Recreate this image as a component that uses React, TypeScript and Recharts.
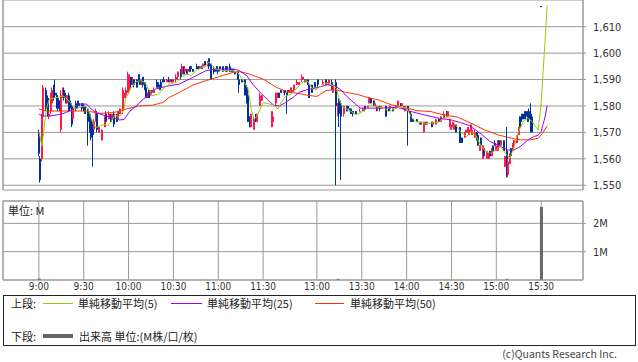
import { ComposedChart, Bar, Line, XAxis, YAxis, CartesianGrid, ReferenceLine } from 'recharts'

const UP = '#ff1a4b'
const DOWN = '#003399'
const GRID = '#999999'
const AXIS_FONT = '"Liberation Sans Narrow", "DejaVu Sans Condensed", "Liberation Sans", sans-serif'
const JP_FONT = '"Noto Sans CJK JP", "Noto Sans", sans-serif'

// x = minute slot counted from 9:00 (11:30 = 150, afternoon opens 12:30 = 156)
const timeSlots = [0, 30, 60, 90, 120, 150, 186, 216, 246, 276, 306, 336]
const timeLabels = ['9:00', '9:30', '10:00', '10:30', '11:00', '11:30', '13:00', '13:30', '14:00', '14:30', '15:00', '15:30']
const priceTicks = [1550, 1560, 1570, 1580, 1590, 1600, 1610]
const volumeTicks = [1, 2]

// [slot, open, high, low, close]
const candles = [
  [0, 1570, 1571, 1561, 1562], [1, 1560, 1561, 1551, 1552], [2, 1560, 1577, 1559, 1576],
  [3, 1576, 1588, 1575, 1587], [5, 1586, 1587, 1578, 1579], [6, 1583, 1584, 1576, 1577],
  [7, 1576, 1578, 1575, 1577], [8, 1578, 1585, 1577, 1584], [9, 1581, 1587, 1580, 1586],
  [10, 1587, 1588, 1582, 1583], [11, 1585, 1590, 1583, 1584], [12, 1584, 1585, 1579, 1580],
  [13, 1583, 1584, 1578, 1579], [14, 1582, 1582, 1578, 1579], [15, 1571, 1586, 1570, 1584],
  [16, 1584, 1587, 1583, 1586], [17, 1586, 1587, 1582, 1583], [18, 1584, 1585, 1581, 1581],
  [19, 1581, 1584, 1581, 1584], [20, 1584, 1585, 1578, 1579], [21, 1582, 1583, 1578, 1579],
  [22, 1580, 1581, 1572, 1573], [23, 1575, 1579, 1575, 1579], [25, 1581, 1582, 1578, 1579],
  [26, 1581, 1582, 1579, 1580], [27, 1581, 1582, 1580, 1580], [29, 1581, 1581, 1578, 1579],
  [30, 1580, 1581, 1578, 1578], [31, 1580, 1580, 1577, 1577], [33, 1579, 1579, 1565, 1574],
  [34, 1577, 1578, 1570, 1571], [35, 1575, 1575, 1567, 1568], [36, 1572, 1574, 1557, 1569],
  [37, 1571, 1575, 1571, 1574], [38, 1575, 1579, 1574, 1578], [39, 1577, 1578, 1570, 1571],
  [40, 1570, 1572, 1570, 1572], [42, 1567, 1571, 1567, 1571], [44, 1572, 1576, 1572, 1576],
  [45, 1577, 1578, 1574, 1574], [47, 1575, 1578, 1575, 1577], [48, 1577, 1577, 1574, 1574],
  [49, 1575, 1577, 1575, 1577], [50, 1577, 1578, 1572, 1573], [52, 1576, 1577, 1574, 1574],
  [53, 1575, 1578, 1575, 1578], [54, 1577, 1579, 1577, 1579], [56, 1578, 1587, 1577, 1586],
  [57, 1583, 1585, 1582, 1585], [58, 1584, 1587, 1583, 1586], [60, 1585, 1593, 1585, 1592],
  [61, 1587, 1592, 1586, 1591], [62, 1591, 1591, 1587, 1588], [63, 1588, 1591, 1588, 1590],
  [64, 1590, 1590, 1587, 1588], [66, 1590, 1590, 1587, 1587], [67, 1592, 1592, 1589, 1590],
  [68, 1590, 1590, 1588, 1588], [69, 1588, 1590, 1588, 1590], [70, 1591, 1591, 1587, 1588],
  [71, 1589, 1589, 1586, 1586], [72, 1587, 1587, 1583, 1583], [73, 1584, 1585, 1583, 1585],
  [74, 1586, 1586, 1583, 1583], [75, 1584, 1586, 1584, 1586], [76, 1585, 1586, 1585, 1586],
  [77, 1585, 1587, 1585, 1586], [79, 1589, 1590, 1587, 1587], [80, 1589, 1589, 1587, 1587],
  [81, 1588, 1588, 1586, 1586], [82, 1589, 1590, 1587, 1587], [83, 1590, 1590, 1589, 1589],
  [84, 1590, 1591, 1589, 1589], [86, 1589, 1590, 1589, 1590], [87, 1590, 1591, 1589, 1589],
  [88, 1589, 1590, 1589, 1590], [89, 1590, 1590, 1589, 1589], [90, 1589, 1590, 1589, 1590],
  [92, 1590, 1592, 1589, 1591], [93, 1591, 1593, 1590, 1593], [95, 1593, 1594, 1590, 1591],
  [96, 1592, 1596, 1592, 1595], [97, 1595, 1595, 1592, 1592], [98, 1593, 1595, 1593, 1594],
  [99, 1594, 1594, 1592, 1592], [100, 1593, 1594, 1593, 1594], [101, 1595, 1595, 1593, 1593],
  [102, 1595, 1595, 1593, 1594], [103, 1594, 1594, 1593, 1593], [106, 1595, 1596, 1594, 1594],
  [107, 1595, 1595, 1594, 1594], [108, 1594, 1595, 1594, 1595], [109, 1595, 1595, 1594, 1594],
  [110, 1595, 1596, 1595, 1596], [111, 1597, 1597, 1595, 1595], [113, 1595, 1597, 1595, 1596],
  [114, 1598, 1598, 1594, 1595], [115, 1596, 1596, 1590, 1590], [117, 1594, 1595, 1592, 1593],
  [118, 1594, 1594, 1593, 1593], [119, 1595, 1595, 1593, 1594], [120, 1594, 1594, 1592, 1593],
  [121, 1595, 1595, 1593, 1594], [123, 1595, 1595, 1593, 1593], [125, 1595, 1595, 1593, 1594],
  [126, 1595, 1595, 1593, 1593], [128, 1595, 1596, 1593, 1593], [129, 1594, 1594, 1593, 1593],
  [130, 1594, 1594, 1593, 1593], [131, 1593, 1593, 1592, 1592], [133, 1593, 1593, 1590, 1590],
  [134, 1590, 1590, 1585, 1588], [136, 1590, 1590, 1589, 1589], [138, 1590, 1590, 1584, 1584],
  [139, 1587, 1588, 1581, 1581], [140, 1584, 1584, 1574, 1574], [141, 1576, 1576, 1572, 1572],
  [142, 1572, 1577, 1572, 1577], [144, 1571, 1576, 1571, 1575], [145, 1577, 1577, 1574, 1574],
  [146, 1574, 1577, 1574, 1577], [148, 1580, 1585, 1580, 1584], [149, 1582, 1584, 1582, 1584],
  [156, 1572, 1578, 1572, 1578], [157, 1574, 1577, 1573, 1576], [159, 1581, 1585, 1580, 1585],
  [160, 1583, 1585, 1583, 1585], [161, 1585, 1585, 1583, 1583], [162, 1586, 1586, 1585, 1585],
  [164, 1585, 1586, 1585, 1586], [165, 1586, 1586, 1584, 1585], [166, 1585, 1585, 1577, 1584],
  [167, 1586, 1586, 1585, 1585], [168, 1585, 1586, 1585, 1586], [169, 1585, 1587, 1585, 1587],
  [170, 1585, 1586, 1585, 1586], [171, 1586, 1588, 1586, 1588], [173, 1588, 1590, 1588, 1589],
  [174, 1588, 1589, 1588, 1589], [176, 1590, 1592, 1589, 1591], [177, 1590, 1591, 1590, 1591],
  [178, 1590, 1590, 1589, 1589], [179, 1589, 1590, 1589, 1590], [180, 1590, 1590, 1588, 1588],
  [181, 1588, 1588, 1583, 1583], [183, 1588, 1588, 1585, 1585], [185, 1589, 1589, 1587, 1587],
  [187, 1590, 1590, 1587, 1588], [190, 1588, 1590, 1588, 1589], [192, 1590, 1590, 1588, 1589],
  [193, 1588, 1589, 1588, 1589], [194, 1588, 1590, 1588, 1590], [196, 1589, 1590, 1586, 1586],
  [197, 1585, 1588, 1585, 1588], [199, 1589, 1590, 1550, 1580], [200, 1577, 1581, 1576, 1581],
  [201, 1582, 1583, 1572, 1577], [202, 1581, 1582, 1552, 1576], [204, 1577, 1580, 1576, 1580],
  [206, 1580, 1580, 1578, 1578], [207, 1580, 1580, 1579, 1579], [208, 1579, 1579, 1578, 1578],
  [209, 1579, 1579, 1577, 1577], [210, 1578, 1578, 1576, 1577], [212, 1578, 1578, 1577, 1577],
  [215, 1578, 1579, 1578, 1578], [217, 1578, 1579, 1578, 1579], [218, 1580, 1580, 1578, 1579],
  [220, 1579, 1580, 1579, 1580], [221, 1581, 1583, 1581, 1583], [222, 1583, 1583, 1581, 1581],
  [224, 1582, 1582, 1580, 1580], [225, 1580, 1581, 1580, 1581], [226, 1580, 1580, 1578, 1579],
  [227, 1579, 1580, 1578, 1580], [228, 1580, 1580, 1578, 1579], [229, 1579, 1580, 1579, 1580],
  [232, 1580, 1580, 1576, 1576], [234, 1579, 1579, 1578, 1578], [235, 1579, 1580, 1579, 1580],
  [237, 1579, 1579, 1578, 1578], [239, 1579, 1580, 1579, 1580], [240, 1580, 1582, 1580, 1582],
  [242, 1581, 1581, 1580, 1580], [243, 1580, 1581, 1580, 1581], [244, 1580, 1580, 1579, 1579],
  [245, 1578, 1580, 1578, 1580], [247, 1580, 1580, 1565, 1578], [248, 1578, 1578, 1577, 1577],
  [249, 1577, 1577, 1574, 1574], [250, 1575, 1575, 1574, 1574], [253, 1575, 1575, 1574, 1574],
  [255, 1573, 1574, 1573, 1574], [256, 1574, 1574, 1573, 1573], [258, 1570, 1574, 1570, 1574],
  [259, 1574, 1574, 1573, 1573], [260, 1573, 1574, 1573, 1574], [263, 1574, 1574, 1572, 1572],
  [264, 1573, 1574, 1573, 1574], [266, 1573, 1575, 1573, 1575], [268, 1575, 1575, 1574, 1574],
  [269, 1574, 1576, 1574, 1576], [271, 1575, 1578, 1575, 1577], [273, 1578, 1578, 1576, 1576],
  [274, 1576, 1578, 1576, 1578], [275, 1572, 1575, 1572, 1575], [276, 1571, 1574, 1571, 1573],
  [277, 1572, 1574, 1572, 1574], [278, 1571, 1573, 1571, 1573], [279, 1573, 1573, 1570, 1570],
  [282, 1572, 1572, 1566, 1566], [283, 1568, 1568, 1566, 1566], [285, 1568, 1570, 1568, 1570],
  [286, 1570, 1571, 1570, 1571], [287, 1570, 1572, 1570, 1572], [288, 1569, 1571, 1569, 1571],
  [289, 1570, 1573, 1570, 1573], [290, 1569, 1571, 1569, 1571], [292, 1568, 1571, 1568, 1570],
  [293, 1570, 1570, 1567, 1567], [294, 1569, 1569, 1565, 1565], [295, 1563, 1565, 1563, 1565],
  [296, 1568, 1568, 1565, 1565], [297, 1560, 1565, 1560, 1565], [298, 1564, 1564, 1561, 1561],
  [300, 1560, 1563, 1560, 1563], [301, 1560, 1562, 1560, 1562], [302, 1563, 1563, 1561, 1561],
  [303, 1561, 1564, 1561, 1564], [304, 1565, 1565, 1563, 1563], [305, 1566, 1567, 1565, 1565],
  [306, 1563, 1565, 1563, 1565], [307, 1563, 1567, 1563, 1567], [308, 1567, 1567, 1565, 1565],
  [309, 1565, 1567, 1565, 1567], [311, 1567, 1567, 1563, 1563], [312, 1557, 1561, 1557, 1561],
  [313, 1563, 1572, 1553, 1556], [314, 1554, 1560, 1553, 1559], [315, 1558, 1562, 1558, 1561],
  [316, 1564, 1564, 1561, 1561], [317, 1563, 1566, 1563, 1566], [318, 1565, 1567, 1565, 1567],
  [320, 1566, 1569, 1566, 1569], [321, 1569, 1572, 1569, 1572], [322, 1576, 1576, 1572, 1572],
  [323, 1577, 1577, 1574, 1575], [324, 1577, 1577, 1575, 1575], [325, 1577, 1578, 1575, 1575],
  [326, 1578, 1578, 1576, 1576], [327, 1578, 1578, 1574, 1574], [328, 1578, 1579, 1575, 1575],
  [329, 1577, 1581, 1570, 1573], [330, 1576, 1576, 1570, 1570], [336, 1617.8, 1617.8, 1617.5, 1617.5],
]

// moving averages: [slot, value]
const ma5Points = [
  [0, 1570.5], [2, 1564.8], [5, 1578.8], [7, 1582.6], [12, 1583.2], [16, 1583.8], [18, 1583.2],
  [21, 1581.3], [24, 1578.8], [27, 1579.4], [31, 1580.0], [33, 1578.8], [36, 1573.7], [38, 1571.8],
  [41, 1572.4], [44, 1573.0], [46, 1572.4], [48, 1573.7], [51, 1576.8], [53, 1575.6], [55, 1576.8],
  [57, 1578.8], [58, 1582.6], [62, 1587.0], [65, 1589.2], [68, 1589.6], [71, 1588.9], [74, 1585.8],
  [76, 1583.8], [80, 1584.5], [83, 1586.4], [87, 1588.3], [92, 1588.9], [95, 1590.8], [99, 1592.1],
  [102, 1591.5], [105, 1593.4], [110, 1594.7], [114, 1596.6], [118, 1594.0], [123, 1593.4],
  [130, 1593.4], [133, 1592.7], [136, 1590.2], [140, 1586.4], [142, 1578.8], [144, 1575.0],
  [146, 1576.2], [150, 1581.3], [156, 1580.5], [158, 1580.0], [160, 1578.8], [162, 1581.3],
  [165, 1583.8], [169, 1584.5], [172, 1586.4], [175, 1588.3], [178, 1589.6], [180, 1589.2],
  [183, 1586.4], [186, 1586.3], [191, 1588.6], [195, 1588.4], [199, 1586.7], [201, 1582.3],
  [203, 1579.8], [205, 1579.2], [209, 1577.9], [212, 1576.6], [215, 1577.3], [220, 1579.2],
  [222, 1580.4], [225, 1579.8], [231, 1579.2], [234, 1577.9], [239, 1579.2], [242, 1579.8],
  [246, 1579.2], [249, 1576.0], [252, 1574.1], [258, 1573.5], [262, 1573.5], [267, 1573.7],
  [271, 1575.4], [274, 1576.0], [278, 1573.5], [282, 1570.3], [286, 1568.4], [289, 1570.3],
  [292, 1569.1], [296, 1564.6], [299, 1562.8], [302, 1562.1], [306, 1563.4], [309, 1564.6],
  [312, 1562.1], [315, 1560.2], [318, 1564.6], [320, 1569.1], [324, 1574.1], [327, 1575.4],
  [330, 1574.1], [334, 1570.8], [336, 1581], [337, 1590], [338, 1599], [339, 1608], [340, 1618],
]
const ma25Points = [
  [0, 1576.8], [3, 1576.2], [7, 1576.2], [14, 1576.8], [18, 1577.5], [23, 1578.8], [27, 1580.7],
  [32, 1580.7], [34, 1579.4], [38, 1577.5], [45, 1576.2], [50, 1575.6], [54, 1574.7], [57, 1574.9],
  [61, 1578.1], [65, 1580.0], [70, 1582.6], [74, 1584.5], [78, 1586.4], [85, 1587.4], [94, 1588.3],
  [103, 1590.8], [112, 1593.4], [119, 1594.0], [130, 1594.0], [134, 1593.4], [139, 1591.5],
  [143, 1588.3], [148, 1585.1], [157, 1580.3], [161, 1580.0], [165, 1581.3], [170, 1583.2],
  [174, 1585.1], [179, 1586.1], [186, 1586.9], [193, 1588.0], [198, 1587.6], [202, 1586.1],
  [206, 1583.6], [211, 1581.1], [215, 1579.2], [222, 1579.2], [231, 1579.2], [240, 1579.5],
  [249, 1577.9], [258, 1576.6], [267, 1575.4], [276, 1574.7], [282, 1573.7], [288, 1572.6],
  [296, 1569.3], [302, 1566.5], [309, 1564.6], [314, 1563.3], [318, 1563.4], [322, 1564.6],
  [327, 1567.0], [331, 1568.4], [334, 1568.9], [336, 1570.3], [337, 1572.5], [338, 1574.5],
  [339, 1577.0], [340, 1580.1],
]
const ma50Points = [
  [0, 1578.8], [5, 1578.1], [18, 1578.1], [32, 1578.1], [41, 1577.2], [50, 1577.5], [58, 1578.8],
  [67, 1580.0], [76, 1580.3], [83, 1581.3], [87, 1583.2], [94, 1585.1], [103, 1587.9], [112, 1589.6],
  [121, 1591.2], [130, 1592.7], [134, 1593.0], [139, 1592.4], [145, 1591.2], [150, 1590.2],
  [159, 1587.0], [165, 1585.7], [170, 1585.1], [174, 1584.7], [179, 1584.1], [186, 1583.6],
  [192, 1585.8], [198, 1586.3], [205, 1585.2], [213, 1584.4], [218, 1583.5], [227, 1582.3],
  [236, 1580.4], [244, 1579.5], [253, 1578.2], [262, 1577.9], [271, 1576.6], [280, 1575.8],
  [289, 1573.5], [298, 1571.0], [307, 1569.1], [316, 1567.8], [322, 1567.2], [329, 1567.2],
  [334, 1567.8], [337, 1569.7], [340, 1572.5],
]

// volume in millions: [slot, volume]
const volumes = [[0, 0.05], [200, 0.04], [313, 0.04], [336, 2.58]]

const X_DOMAIN: [number, number] = [-24, 364]

const candleData = candles.map(([slot, open, high, low, close]) => ({
  slot, open, high, low, close, range: [low, high],
}))
const toLine = (pts: number[][]) => pts.map(([slot, v]) => ({ slot, v }))
const ma5Data = toLine(ma5Points)
const ma25Data = toLine(ma25Points)
const ma50Data = toLine(ma50Points)
const volumeData = volumes.map(([slot, vol]) => ({ slot, vol }))

const timeLabel = (slot: number) => timeLabels[timeSlots.indexOf(slot)] ?? ''

function Candle(props: any) {
  const { x, y, width, height, payload } = props
  if (x == null || y == null || !payload) return null
  const { open, high, low, close } = payload
  const color = close >= open ? UP : DOWN
  const cx = Math.round(x + width / 2)
  const k = high > low ? height / (high - low) : 0
  const yOpen = y + (high - open) * k
  const yClose = y + (high - close) * k
  const top = Math.min(yOpen, yClose)
  const bodyH = Math.max(1, Math.abs(yClose - yOpen))
  return (
    <g>
      <line x1={cx - 0.5} x2={cx - 0.5} y1={y} y2={y + Math.max(height, 1)} stroke={color} strokeWidth={1} />
      <rect x={cx - 1} y={top} width={2} height={bodyH} fill={color} />
    </g>
  )
}

const axisTick = { fill: '#333', fontSize: 11, fontFamily: AXIS_FONT }

function LegendLine({ left, top, color, h = 1, w = 30 }: any) {
  return <div style={{ position: 'absolute', left, top: top - h / 2, width: w, height: h, background: color }} />
}

function Label({ left, top, children, size = 11 }: any) {
  return (
    <div style={{ position: 'absolute', left, top: top - 7, lineHeight: '14px', fontSize: size, fontFamily: JP_FONT, color: '#222', whiteSpace: 'nowrap' }}>
      {children}
    </div>
  )
}

export default function App() {
  return (
    <div style={{ position: 'fixed', left: 0, top: 0, width: 638, height: 362, background: '#fff', overflow: 'hidden' }}>
      <div style={{ position: 'absolute', left: 0, top: 0 }}>
        <ComposedChart width={638} height={192} data={candleData} margin={{ top: 0, right: 0, bottom: 2, left: 3 }}>
          <CartesianGrid stroke={GRID} />
          <XAxis
            type="number"
            dataKey="slot"
            domain={X_DOMAIN}
            ticks={timeSlots}
            allowDataOverflow
            height={0}
            tick={false}
            tickLine={false}
            axisLine={{ stroke: GRID }}
          />
          <YAxis
            orientation="right"
            domain={[1548.2, 1620.1]}
            ticks={priceTicks}
            allowDataOverflow
            interval={0}
            width={55}
            tickSize={3}
            tickMargin={7}
            tickLine={{ stroke: GRID }}
            axisLine={{ stroke: GRID }}
            tick={axisTick}
            tickFormatter={v => Number(v).toLocaleString('en-US')}
          />
          <ReferenceLine x={X_DOMAIN[0]} stroke={GRID} />
          <Bar dataKey="range" shape={Candle} barSize={2} isAnimationActive={false} />
          <Line data={ma50Data} dataKey="v" type="linear" stroke="#ff3300" strokeWidth={1} dot={false} activeDot={false} isAnimationActive={false} />
          <Line data={ma25Data} dataKey="v" type="linear" stroke="#9900ff" strokeWidth={1} dot={false} activeDot={false} isAnimationActive={false} />
          <Line data={ma5Data} dataKey="v" type="linear" stroke="#99cc00" strokeWidth={1} dot={false} activeDot={false} isAnimationActive={false} />
        </ComposedChart>
      </div>

      <div style={{ position: 'absolute', left: 0, top: 195 }}>
        <ComposedChart width={638} height={105} data={volumeData} margin={{ top: 6, right: 0, bottom: 0, left: 3 }}>
          <CartesianGrid stroke={GRID} />
          <XAxis
            type="number"
            dataKey="slot"
            domain={X_DOMAIN}
            ticks={timeSlots}
            allowDataOverflow
            interval={0}
            height={20}
            tickSize={0}
            tickMargin={3}
            tickLine={false}
            axisLine={{ stroke: GRID }}
            tick={{ ...axisTick, fontSize: 10 }}
            tickFormatter={timeLabel}
          />
          <YAxis
            orientation="right"
            domain={[0, 2.79]}
            ticks={volumeTicks}
            allowDataOverflow
            interval={0}
            width={55}
            tickSize={3}
            tickMargin={7}
            tickLine={{ stroke: GRID }}
            axisLine={{ stroke: GRID }}
            tick={axisTick}
            tickFormatter={v => `${v}M`}
          />
          <ReferenceLine x={X_DOMAIN[0]} stroke={GRID} />
          <ReferenceLine y={2.79} stroke={GRID} />
          <Bar dataKey="vol" fill="#666666" barSize={3} isAnimationActive={false} />
        </ComposedChart>
      </div>
      <Label left={8} top={210}>単位: M</Label>

      <div style={{ position: 'absolute', left: 3, top: 295, width: 633, height: 51, border: '1px solid #222', boxSizing: 'border-box' }} />
      <Label left={11} top={303}>上段:</Label>
      <LegendLine left={43} top={303} color="#99cc00" />
      <Label left={78} top={303}>単純移動平均(5)</Label>
      <LegendLine left={171} top={303} color="#9900ff" w={31} />
      <Label left={207} top={303}>単純移動平均(25)</Label>
      <LegendLine left={315} top={303} color="#ff3300" w={29} />
      <Label left={350} top={303}>単純移動平均(50)</Label>
      <Label left={11} top={336}>下段:</Label>
      <LegendLine left={43} top={336} color="#666666" h={4} />
      <Label left={79} top={336}>出来高 単位:(M株/口/枚)</Label>

      <div style={{ position: 'absolute', right: 21, top: 347, lineHeight: '13px', fontSize: 10.5, fontFamily: JP_FONT, color: '#444', whiteSpace: 'nowrap' }}>
        (c)Quants Research Inc.
      </div>
    </div>
  )
}
